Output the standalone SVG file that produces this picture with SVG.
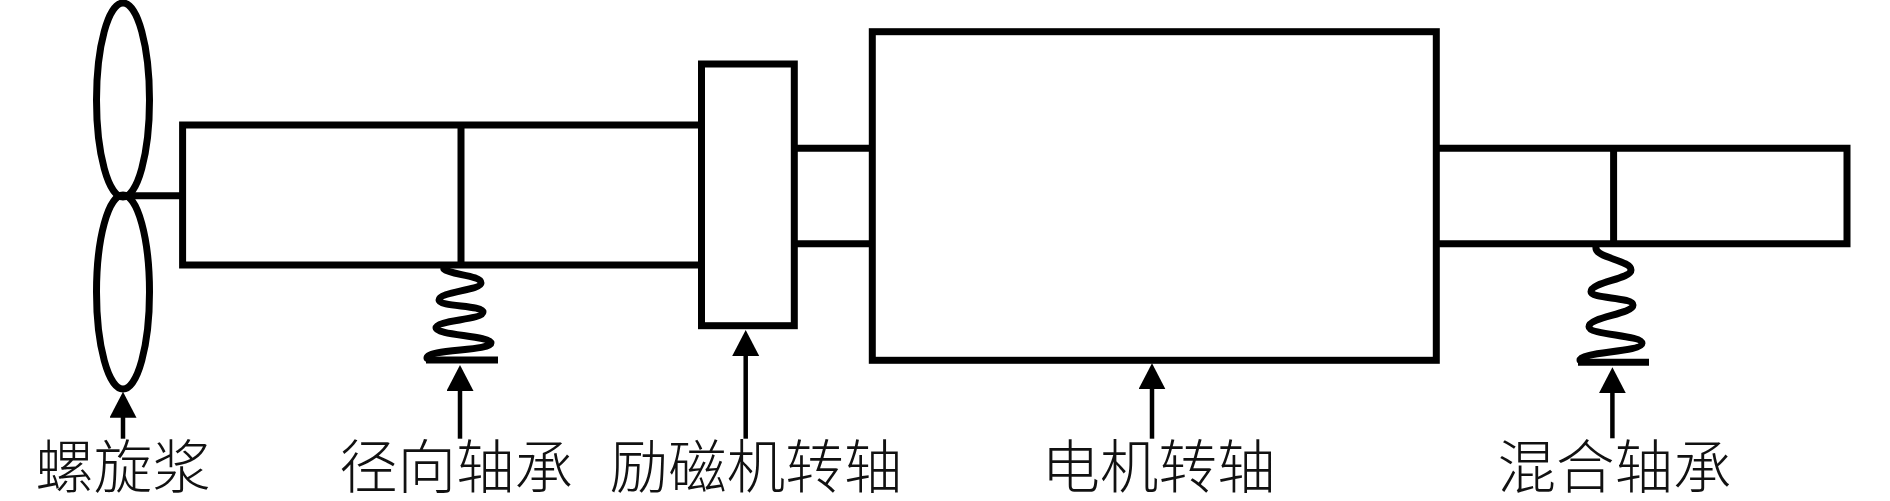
<svg xmlns="http://www.w3.org/2000/svg" width="1890" height="501" viewBox="0 0 1890 501">
<style>
.s{fill:none;stroke:#000;stroke-width:7;stroke-linejoin:miter}
.w{fill:#fff;stroke:#000;stroke-width:7}
.sp{fill:none;stroke:#000;stroke-width:7;stroke-linecap:round;stroke-linejoin:round}
.a{stroke:#000;stroke-width:4.5;fill:none;marker-end:url(#ah)}
text{font-family:"Liberation Serif","Noto Sans CJK SC",serif;font-size:58.5px;font-weight:300;fill:#111;text-anchor:middle}
</style>
<defs>
<marker id="ah" markerUnits="userSpaceOnUse" markerWidth="28" markerHeight="28" refX="16" refY="13.5" orient="auto">
<path d="M0 0L26 13.5L0 27Z" fill="#000"/>
</marker>
</defs>
<rect width="1890" height="501" fill="#fff"/>
<g id="propeller">
<ellipse class="s" cx="123" cy="100" rx="26.5" ry="97"/>
<ellipse class="s" cx="123" cy="292" rx="26.5" ry="97"/>
<path class="s" d="M123 195.7H182"/>
<text x="123" y="487.5">螺旋浆</text>
</g>
<g id="radial-bearing-shaft">
<rect class="s" x="182.6" y="125" width="519" height="140"/>
<path class="s" d="M461 125V265"/>
</g>
<g id="radial-bearing">
<path class="sp" d="M444 269C450 275 481 275 481 283C481 290 439 292 439 300C439 307 483 305 483 312C483 320 436 320 436 328C436 335 491 336 491 343C491 351 426 349 427 358"/>
<path class="s" d="M426 360H498"/>
<text x="456" y="487.5">径向轴承</text>
</g>
<g id="exciter-shaft">
<rect class="w" x="701.5" y="64" width="92.8" height="261.7"/>
<text x="756" y="487.5">励磁机转轴</text>
</g>
<g id="coupling">
<path class="s" d="M794 148.3H872M794 243.7H872"/>
</g>
<g id="motor-shaft">
<rect class="w" x="872.3" y="31.7" width="564" height="328.6"/>
<text x="1158.5" y="487.5">电机转轴</text>
</g>
<g id="hybrid-shaft">
<path class="s" d="M1436 148.3H1847V243.7H1436"/>
<path class="s" d="M1613.6 148V244"/>
</g>
<g id="hybrid-bearing">
<path class="sp" d="M1596 247C1594 258 1631 260 1631 270C1631 279 1591 282 1591 291.7C1591 299 1633 297 1633 305C1633 314 1589 317 1589 326.7C1589 335 1642 335 1642 343.3C1642 352 1580 352 1580 360"/>
<path class="s" d="M1578 362.3H1649"/>
<text x="1614.5" y="487.5">混合轴承</text>
</g>
<g id="connectors">
<path class="a" d="M123 438.7V401.7"/>
<path class="a" d="M460 438.7V375"/>
<path class="a" d="M745.7 438.7V340"/>
<path class="a" d="M1152 438.7V373.3"/>
<path class="a" d="M1612.4 438.3V377.3"/>
</g>
</svg>
